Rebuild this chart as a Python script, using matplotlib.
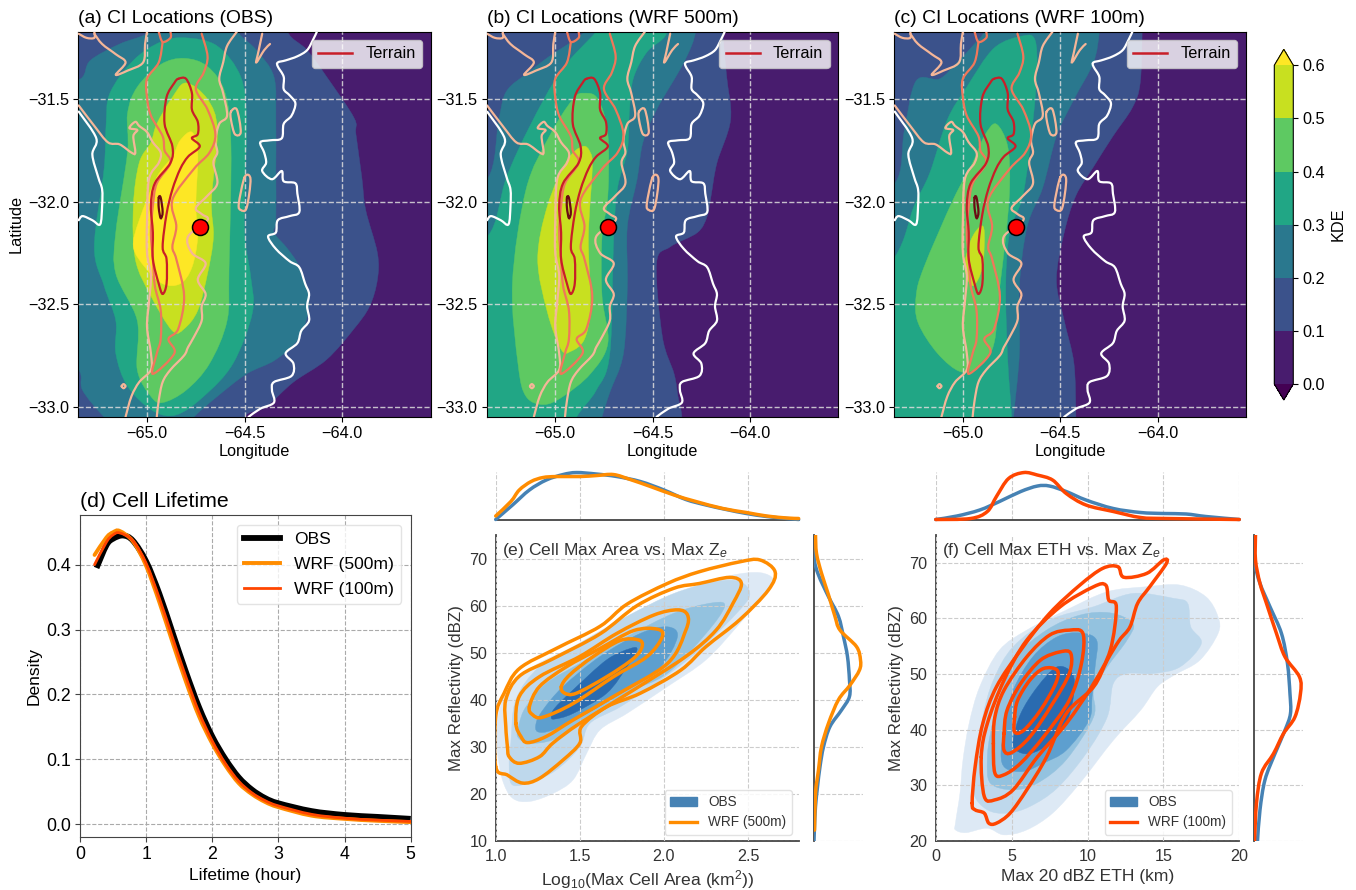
import numpy as np
import matplotlib as mpl
mpl.use('Agg')
import matplotlib.pyplot as plt
from matplotlib.path import Path
from matplotlib.patches import PathPatch, Patch
from matplotlib.lines import Line2D
from matplotlib.colors import ListedColormap, BoundaryNorm
from matplotlib.cm import ScalarMappable

# terrain contours, (lon, lat)
white_east = [(-64.13,-31.17),(-64.15,-31.21),(-64.18,-31.26),(-64.23,-31.29),(-64.29,-31.31),(-64.33,-31.32),
              (-64.33,-31.34),(-64.30,-31.39),(-64.30,-31.45),(-64.27,-31.48),(-64.24,-31.52),(-64.26,-31.58),
              (-64.30,-31.62),(-64.31,-31.69),(-64.37,-31.70),(-64.42,-31.71),(-64.40,-31.76),(-64.39,-31.81),
              (-64.41,-31.85),(-64.36,-31.89),(-64.31,-31.85),(-64.30,-31.90),(-64.24,-31.91),(-64.23,-31.96),
              (-64.22,-32.05),(-64.27,-32.07),(-64.33,-32.09),(-64.34,-32.15),(-64.38,-32.17),(-64.34,-32.23),
              (-64.27,-32.29),(-64.22,-32.32),(-64.19,-32.40),(-64.17,-32.45),(-64.18,-32.51),(-64.17,-32.58),
              (-64.21,-32.63),(-64.23,-32.69),(-64.29,-32.74),(-64.25,-32.79),(-64.26,-32.85),(-64.35,-32.88),
              (-64.36,-32.92),(-64.35,-32.98),(-64.42,-33.01),(-64.48,-33.05)]
white_west = [(-65.35,-31.56),(-65.26,-31.69),(-65.28,-31.77),(-65.25,-31.88),(-65.23,-31.94),(-65.23,-32.02),
              (-65.24,-32.11),(-65.28,-32.09),(-65.33,-32.07),(-65.35,-32.09)]
peach_corner = [(-65.35,-31.18),(-65.31,-31.20),(-65.27,-31.20),(-65.27,-31.17)]
peach_north = [(-65.27,-31.18),(-65.23,-31.23),(-65.16,-31.28),(-65.11,-31.32),(-65.16,-31.38),(-65.10,-31.36),
               (-65.02,-31.32),(-65.01,-31.23),(-65.00,-31.17)]
peach_west = [(-65.35,-31.53),(-65.27,-31.63),(-65.20,-31.71),(-65.14,-31.72),(-65.08,-31.76),(-65.06,-31.76),
              (-65.07,-31.68),(-65.05,-31.65),(-65.09,-31.64),(-65.06,-31.61),(-65.04,-31.63),(-65.00,-31.66),
              (-64.97,-31.71),(-64.93,-31.76),(-64.94,-31.81),(-64.99,-31.89),(-65.00,-32.09),(-65.00,-32.25),
              (-64.98,-32.36),(-64.99,-32.49),(-65.00,-32.61),(-64.98,-32.74),(-64.98,-32.82),(-65.04,-32.88),
              (-65.08,-32.95),(-65.11,-33.05)]
peach_east = [(-64.54,-31.17),(-64.59,-31.24),(-64.61,-31.32),(-64.63,-31.40),(-64.61,-31.47),(-64.59,-31.58),
              (-64.63,-31.62),(-64.65,-31.70),(-64.64,-31.76),(-64.66,-31.81),(-64.64,-31.91),(-64.69,-31.97),
              (-64.75,-32.03),(-64.72,-32.06),(-64.69,-32.09),(-64.79,-32.17),(-64.77,-32.25),(-64.70,-32.30),
              (-64.74,-32.38),(-64.70,-32.45),(-64.72,-32.51),(-64.72,-32.58),(-64.76,-32.66),(-64.79,-32.71),
              (-64.81,-32.75),(-64.88,-32.82),(-64.92,-32.88),(-64.94,-32.97),(-64.95,-33.05)]
peach_isle1 = [(-64.57,-31.56),(-64.54,-31.55),(-64.52,-31.66),(-64.55,-31.67),(-64.57,-31.60)]
peach_isle2 = [(-64.50,-31.88),(-64.47,-31.89),(-64.49,-32.03),(-64.52,-32.04),(-64.53,-32.01)]
peach_isle3 = [(-65.13,-32.90),(-65.12,-32.89),(-65.11,-32.90),(-65.12,-32.91)]
peach_isle4 = [(-64.41,-31.18),(-64.43,-31.27),(-64.44,-31.32),(-64.40,-31.26),(-64.37,-31.23)]
coral_top = [(-64.94,-31.17),(-64.92,-31.22),(-64.88,-31.20),(-64.88,-31.17)]
coral_main = [(-64.92,-31.22),(-64.94,-31.32),(-65.00,-31.40),(-65.00,-31.49),(-64.98,-31.58),(-64.92,-31.68),
              (-64.91,-31.75),(-64.88,-31.81),(-64.95,-31.91),(-64.97,-32.02),(-64.98,-32.15),(-64.97,-32.28),
              (-64.96,-32.41),(-64.93,-32.53),(-64.93,-32.67),(-64.95,-32.74),(-64.97,-32.84),(-64.86,-32.74),
              (-64.89,-32.67),(-64.84,-32.62),(-64.81,-32.46),(-64.85,-32.28),(-64.87,-32.22),(-64.85,-32.12),
              (-64.87,-31.99),(-64.76,-31.84),(-64.68,-31.76),(-64.65,-31.67),(-64.69,-31.55),(-64.75,-31.45),
              (-64.71,-31.37),(-64.69,-31.29),(-64.72,-31.18)]
red_ridge = [(-64.84,-31.40),(-64.80,-31.40),(-64.77,-31.47),(-64.77,-31.55),(-64.74,-31.61),(-64.74,-31.67),
             (-64.77,-31.69),(-64.73,-31.73),(-64.79,-31.78),(-64.83,-31.84),(-64.87,-31.94),(-64.90,-32.06),
             (-64.92,-32.22),(-64.90,-32.28),(-64.90,-32.40),(-64.92,-32.45),(-64.94,-32.40),(-64.97,-32.28),
             (-64.97,-32.15),(-64.98,-32.02),(-64.96,-31.91),(-64.88,-31.81),(-64.87,-31.73),(-64.91,-31.62),
             (-64.90,-31.49),(-64.86,-31.42)]
dark_peak = [(-64.94,-31.98),(-64.93,-31.98),(-64.92,-32.05),(-64.93,-32.08),(-64.94,-32.03)]
ci_lon = [-64.729]
ci_lat = [-32.125]

# KDE iso-lines of the CI maps, (lon, lat), level 0.1 to 0.6
obs_10 = [(-64.30,-31.0),(-64.28,-31.17),(-64.18,-31.26),(-64.08,-31.39),(-63.94,-31.59),(-63.93,-31.67),(-63.90,-31.88),
          (-63.88,-32.04),(-63.82,-32.25),(-63.82,-32.38),(-63.86,-32.51),(-63.94,-32.62),(-64.08,-32.77),(-64.25,-32.88),
          (-64.39,-33.00),(-64.50,-33.05),(-64.50,-33.2),(-65.6,-33.2),(-65.6,-31.0)]
obs_20 = [(-65.5,-31.45),(-65.34,-31.40),(-65.29,-31.31),(-65.14,-31.23),(-65.00,-31.18),(-64.9,-31.1),(-64.6,-31.1),
          (-64.52,-31.19),(-64.44,-31.26),(-64.35,-31.39),(-64.34,-31.60),(-64.34,-31.84),(-64.34,-32.09),(-64.35,-32.15),
          (-64.28,-32.23),(-64.22,-32.32),(-64.17,-32.49),(-64.22,-32.66),(-64.34,-32.77),(-64.49,-32.84),(-64.64,-32.95),
          (-64.76,-33.05),(-64.85,-33.15),(-65.10,-33.15),(-65.22,-33.05),(-65.33,-32.92),(-65.35,-32.82),(-65.5,-32.7)]
obs_30 = [(-64.80,-31.20),(-64.93,-31.22),(-65.07,-31.31),(-65.19,-31.47),(-65.21,-31.63),(-65.22,-31.84),(-65.27,-32.22),
          (-65.22,-32.41),(-65.16,-32.58),(-65.16,-32.74),(-65.10,-32.90),(-64.97,-33.02),(-64.85,-33.04),(-64.71,-32.95),
          (-64.56,-32.79),(-64.46,-32.54),(-64.47,-32.36),(-64.50,-32.17),(-64.50,-31.93),(-64.49,-31.60),(-64.52,-31.39),
          (-64.64,-31.24)]
obs_40 = [(-64.81,-31.30),(-64.93,-31.33),(-65.05,-31.44),(-65.10,-31.57),(-65.10,-31.76),(-65.16,-32.15),(-65.16,-32.35),
          (-65.05,-32.58),(-65.05,-32.82),(-64.98,-32.95),(-64.92,-32.98),(-64.80,-32.92),(-64.68,-32.79),(-64.59,-32.58),
          (-64.58,-32.33),(-64.57,-31.73),(-64.60,-31.47),(-64.69,-31.34)]
obs_50 = [(-64.80,-31.42),(-64.87,-31.49),(-64.95,-31.62),(-64.98,-31.71),(-65.04,-31.81),(-65.07,-32.02),(-65.06,-32.28),
          (-64.98,-32.46),(-64.87,-32.63),(-64.81,-32.62),(-64.74,-32.53),(-64.69,-32.35),(-64.66,-32.17),(-64.67,-31.99),
          (-64.64,-31.65),(-64.69,-31.50)]
obs_60 = [(-64.77,-31.66),(-64.83,-31.70),(-64.87,-31.78),(-64.95,-31.88),(-65.04,-32.09),(-65.07,-32.22),(-65.01,-32.32),
          (-64.92,-32.40),(-64.83,-32.40),(-64.77,-32.32),(-64.74,-32.17),(-64.75,-32.02),(-64.74,-31.76)]

w500_10 = [(-64.14,-31.05),(-64.14,-31.18),(-64.12,-31.39),(-64.10,-31.60),(-64.17,-31.81),(-64.20,-31.97),(-64.22,-32.07),
           (-64.27,-32.15),(-64.41,-32.22),(-64.48,-32.30),(-64.45,-32.66),(-64.39,-32.84),(-64.37,-32.95),(-64.35,-33.05),
           (-64.35,-33.2),(-65.6,-33.2),(-65.6,-31.05)]
w500_20 = [(-64.28,-31.17),(-64.34,-31.32),(-64.48,-31.55),(-64.55,-31.71),(-64.58,-31.89),(-64.63,-32.12),(-64.63,-32.41),
           (-64.65,-32.74),(-64.72,-32.93),(-64.76,-33.05),(-64.8,-33.2),(-65.6,-33.2),(-65.6,-32.0),(-65.35,-31.89),
           (-65.29,-31.60),(-65.25,-31.46),(-65.14,-31.37),(-65.03,-31.29),(-64.85,-31.17),(-64.8,-31.05),(-64.3,-31.05)]
w500_30 = [(-64.43,-31.18),(-64.53,-31.27),(-64.60,-31.40),(-64.62,-31.57),(-64.63,-31.75),(-64.68,-31.93),(-64.70,-32.17),
           (-64.72,-32.74),(-64.79,-32.92),(-64.89,-33.05),(-64.95,-33.2),(-65.6,-33.2),(-65.6,-32.2),(-65.35,-32.17),
           (-65.25,-31.88),(-65.13,-31.63),(-64.97,-31.36),(-64.79,-31.17),(-64.7,-31.05),(-64.45,-31.05)]
w500_40 = [(-64.85,-31.47),(-64.91,-31.50),(-65.03,-31.68),(-65.15,-31.94),(-65.22,-32.40),(-65.19,-32.80),(-65.15,-32.95),
           (-65.06,-32.99),(-64.96,-32.95),(-64.82,-32.84),(-64.73,-32.69),(-64.76,-32.46),(-64.76,-32.17),(-64.73,-31.97),
           (-64.73,-31.67),(-64.78,-31.50)]
w500_50 = [(-64.86,-31.73),(-64.94,-31.80),(-65.04,-32.02),(-65.09,-32.28),(-65.04,-32.54),(-64.97,-32.72),(-64.92,-32.73),
           (-64.85,-32.67),(-64.82,-32.51),(-64.83,-32.17),(-64.81,-31.84),(-64.82,-31.76)]

w100_10 = [(-64.08,-31.05),(-64.08,-31.17),(-64.09,-31.42),(-64.13,-31.54),(-64.23,-31.68),(-64.33,-31.83),(-64.42,-31.97),
           (-64.48,-32.15),(-64.52,-32.38),(-64.48,-32.58),(-64.43,-32.79),(-64.42,-33.05),(-64.42,-33.2),(-65.6,-33.2),
           (-65.6,-31.05)]
w100_20 = [(-64.30,-31.17),(-64.33,-31.32),(-64.43,-31.50),(-64.52,-31.68),(-64.59,-31.93),(-64.67,-32.12),(-64.71,-32.41),
           (-64.71,-32.74),(-64.74,-33.05),(-64.75,-33.2),(-65.6,-33.2),(-65.6,-32.0),(-65.35,-31.91),(-65.30,-31.65),
           (-65.24,-31.41),(-65.12,-31.40),(-65.03,-31.32),(-64.95,-31.24),(-64.89,-31.17),(-64.85,-31.05),(-64.3,-31.05)]
w100_30 = [(-64.63,-31.21),(-64.69,-31.19),(-64.84,-31.25),(-64.98,-31.44),(-65.08,-31.60),(-65.17,-31.86),(-65.25,-32.02),
           (-65.35,-32.27),(-65.6,-32.5),(-65.6,-33.2),(-64.75,-33.2),(-64.75,-33.05),(-64.77,-32.77),(-64.78,-32.41),
           (-64.76,-32.15),(-64.69,-31.96),(-64.64,-31.60),(-64.62,-31.36)]
w100_40 = [(-64.83,-31.62),(-64.89,-31.68),(-64.95,-31.81),(-65.05,-31.99),(-65.20,-32.32),(-65.24,-32.46),(-65.23,-32.59),
           (-65.13,-32.74),(-65.01,-32.83),(-64.91,-32.80),(-64.84,-32.69),(-64.81,-32.41),(-64.78,-32.17),(-64.76,-31.93),
           (-64.77,-31.73)]
w100_50 = [(-64.91,-32.12),(-64.96,-32.19),(-64.99,-32.32),(-64.95,-32.41),(-64.90,-32.32),(-64.89,-32.15)]

# cell lifetime densities
life_hour = [0.25,0.4,0.5,0.65,0.8,1.0,1.2,1.4,1.6,1.8,2.0,2.2,2.4,2.6,2.8,3.0,3.5,4.0,4.5,5.0]
life_obs = [.395,.430,.440,.445,.437,.405,.355,.295,.235,.180,.135,.100,.072,.053,.040,.032,.020,.014,.011,.008]
life_h500 = [0.22,0.4,0.5,0.6,0.8,1.0,1.2,1.4,1.6,1.8,2.0,2.2,2.4,2.6,2.8,3.0,3.5,4.0,4.5,5.0]
life_w500 = [.415,.442,.450,.452,.436,.398,.342,.280,.220,.166,.124,.090,.063,.046,.034,.026,.013,.008,.005,.003]
life_w100 = [.400,.435,.446,.449,.437,.402,.348,.287,.227,.172,.128,.093,.066,.048,.036,.028,.015,.009,.006,.004]

# (e) area vs reflectivity, OBS filled levels and WRF 500 m lines
area_obs1 = [(1.01,29.3),(1.04,23.0),(1.10,19.1),(1.20,18.4),(1.34,20.1),(1.46,23.0),(1.54,28.6),(1.62,33.6),(1.78,37.1),
             (2.02,42.8),(2.25,48.5),(2.45,56.2),(2.60,62.6),(2.65,65.5),(2.57,67.0),(2.41,66.5),(2.21,64.4),(1.94,60.5),
             (1.70,56.2),(1.46,51.3),(1.22,47.0),(1.07,42.1),(1.01,35.7)]
area_obs2 = [(1.09,30.8),(1.08,25.8),(1.10,21.9),(1.22,22.6),(1.36,25.1),(1.50,30.0),(1.56,35.0),(1.74,38.5),(1.98,44.2),
             (2.21,50.6),(2.45,59.1),(2.51,62.6),(2.45,65.1),(2.31,65.1),(2.06,62.6),(1.78,57.7),(1.50,52.0),(1.26,47.0),
             (1.12,40.0)]
area_obs3 = [(1.14,35.0),(1.13,32.2),(1.20,30.8),(1.34,31.5),(1.50,35.0),(1.78,41.4),(2.02,45.6),(2.25,54.1),(2.36,59.8),
             (2.29,60.6),(2.06,58.4),(1.78,53.4),(1.50,47.7),(1.30,43.5),(1.18,38.5)]
area_obs4 = [(1.24,35.0),(1.25,33.2),(1.34,33.6),(1.54,37.1),(1.78,42.1),(1.98,47.0),(2.08,53.4),(2.02,55.5),(1.86,54.1),
             (1.62,49.2),(1.40,42.8),(1.28,37.8)]
area_obs5 = [(1.33,36.4),(1.35,35.9),(1.46,37.1),(1.66,41.4),(1.78,47.0),(1.84,50.6),(1.80,50.9),(1.66,48.5),(1.46,42.1),
             (1.35,38.2)]
area_wrf1 = [(1.00,25.8),(1.07,24.0),(1.16,22.3),(1.26,23.3),(1.40,27.2),(1.50,30.8),(1.51,34.3),(1.66,38.5),(1.86,41.4),
             (2.10,46.3),(2.25,51.3),(2.45,57.0),(2.62,63.3),(2.66,67.2),(2.57,69.7),(2.45,69.3),(2.21,67.2),(2.02,64.7),
             (1.78,60.3),(1.62,55.6),(1.36,50.9),(1.14,46.6),(1.05,41.4),(1.00,36.4)]
area_wrf2 = [(1.07,30.0),(1.08,27.9),(1.14,26.5),(1.26,27.9),(1.34,30.8),(1.50,35.0),(1.82,42.1),(2.13,49.2),(2.31,54.8),
             (2.41,60.5),(2.46,64.7),(2.39,66.0),(2.21,64.7),(2.06,63.7),(1.84,60.0),(1.62,54.0),(1.34,48.7),(1.14,45.0),
             (1.06,40.0),(1.06,34.3)]
area_wrf3 = [(1.12,35.0),(1.15,32.2),(1.19,30.9),(1.30,32.2),(1.46,35.7),(1.70,40.7),(2.02,47.7),(2.13,54.8),(2.14,58.0),
             (2.08,59.1),(1.94,58.0),(1.72,54.1),(1.50,49.2),(1.26,44.9),(1.14,40.7)]
area_wrf4 = [(1.20,38.5),(1.22,36.8),(1.28,36.3),(1.46,39.2),(1.70,44.9),(1.90,49.2),(1.99,53.4),(1.96,55.0),(1.82,54.7),
             (1.62,50.9),(1.42,47.0),(1.26,42.8)]
area_wrf5 = [(1.39,42.8),(1.41,41.4),(1.48,41.4),(1.66,44.9),(1.82,48.8),(1.87,51.3),(1.85,52.7),(1.74,52.6),(1.58,49.2),
             (1.44,45.3)]
# marginals of (e)
area_x_obs = [1.00,1.10,1.20,1.30,1.40,1.48,1.60,1.72,1.86,2.00,2.13,2.25,2.37,2.49,2.61,2.73,2.80]
area_d_obs = [.01,.30,.60,.80,.91,.95,.92,.87,.77,.60,.41,.30,.21,.13,.07,.03,.01]
area_x_wrf = [1.00,1.09,1.14,1.21,1.28,1.36,1.50,1.60,1.70,1.80,1.92,2.06,2.19,2.35,2.49,2.61,2.73,2.80]
area_d_wrf = [.08,.37,.60,.77,.85,.87,.87,.89,.91,.81,.67,.50,.37,.23,.15,.08,.04,.03]
refl_e_obs = [10,13.0,17.3,21.5,25.8,30.0,34.3,37.8,40.7,44.2,49.2,53.4,57.7,61.9,66.5,69.7,74.7]
dens_e_obs = [0,.01,.03,.07,.12,.19,.32,.55,.71,.71,.67,.59,.49,.29,.09,.01,.01]
refl_e_wrf = [12.3,20.1,25.1,30.0,35.0,40.0,43.1,46.3,48.5,51.3,54.8,57.7,62.3,66.9,71.1,75.0]
dens_e_wrf = [.01,.03,.09,.15,.29,.49,.72,.91,.93,.85,.52,.42,.29,.15,.05,.03]

# (f) echo top vs reflectivity, OBS filled levels and WRF 100 m lines
eth_obs1 = [(1.3,23.2),(1.3,22.0),(2.0,21.5),(3.4,22.3),(4.5,21.1),(6.0,22.0),(7.7,25.0),(9.5,30.4),(11.7,38.1),(13.5,43.5),
            (14.6,47.7),(15.7,49.8),(17.4,52.5),(18.6,57.3),(18.6,60.3),(17.8,63.9),(16.1,66.0),(13.9,65.7),(11.3,64.8),
            (8.6,61.5),(6.0,57.9),(4.2,54.3),(2.9,47.7),(2.2,41.1),(1.8,34.6),(1.6,28.6)]
eth_obs2 = [(2.7,34.0),(2.5,28.6),(3.4,25.6),(4.7,25.0),(6.2,26.2),(8.0,29.5),(9.9,35.7),(11.3,42.3),(11.7,48.3),(12.6,50.1),
            (14.3,50.1),(16.1,51.3),(17.5,55.5),(16.8,58.5),(16.6,62.7),(15.7,63.6),(13.0,64.5),(10.4,62.1),(7.5,59.7),
            (5.1,54.9),(3.8,48.9),(3.1,42.3)]
eth_obs3 = [(3.4,34.6),(3.6,30.4),(5.1,29.2),(6.7,30.4),(8.6,34.6),(10.4,42.3),(10.4,47.1),(11.3,51.3),(12.6,56.1),(13.0,59.1),
            (11.5,61.0),(9.5,60.6),(7.3,57.9),(5.3,53.1),(4.2,45.9),(3.6,39.3)]
eth_obs4 = [(4.3,35.7),(4.6,33.1),(5.8,32.5),(7.1,34.0),(8.6,36.3),(10.1,41.7),(10.3,45.9),(10.5,51.3),(10.6,56.1),(9.5,57.4),
            (8.0,56.7),(6.4,53.1),(5.1,47.1),(4.6,41.1)]
eth_obs5 = [(5.1,38.1),(5.3,36.3),(6.2,35.7),(7.5,37.5),(8.6,41.1),(9.1,46.5),(9.0,50.1),(8.0,51.3),(6.7,47.7),(5.6,42.9)]
eth_wrf1 = [(2.4,26.8),(2.6,25.6),(3.2,25.0),(3.5,23.2),(4.0,23.2),(4.9,25.0),(6.0,29.2),(7.3,35.1),(8.6,42.9),(10.4,47.7),
            (11.3,52.5),(12.1,56.1),(12.8,58.5),(13.3,62.7),(14.1,65.7),(15.2,69.9),(15.0,70.5),(13.9,68.1),(12.4,67.4),
            (12.0,69.3),(11.0,69.0),(9.5,66.0),(7.5,60.9),(5.6,54.3),(4.0,47.7),(3.1,41.1),(2.6,33.4)]
eth_wrf2 = [(3.0,35.1),(3.2,28.0),(3.9,27.4),(5.1,29.2),(6.7,35.1),(8.6,41.1),(10.4,48.3),(11.5,54.3),(11.9,62.1),(11.4,63.3),
            (11.2,66.0),(10.4,65.7),(8.2,62.1),(6.0,56.1),(4.5,48.9),(3.4,41.1)]
eth_wrf3 = [(3.8,37.5),(3.9,32.2),(4.5,31.9),(5.6,34.0),(7.1,38.7),(8.8,45.3),(9.6,51.9),(9.7,57.3),(8.8,57.9),(7.5,57.0),
            (6.0,53.1),(4.5,47.1),(3.9,42.3)]
eth_wrf4 = [(4.5,39.3),(4.5,36.3),(5.0,35.9),(6.2,38.7),(7.7,44.7),(8.8,50.1),(8.9,53.7),(8.2,54.0),(6.9,52.5),(5.6,48.3),
            (4.7,43.5)]
eth_wrf5 = [(5.2,42.3),(5.2,39.6),(5.8,39.9),(6.9,43.5),(7.9,48.3),(8.0,50.7),(7.1,51.0),(6.2,48.9),(5.4,45.3)]
# marginals of (f)
eth_x_obs = [0,1.4,2.9,4.2,5.6,6.7,7.5,8.6,9.9,11.7,13.5,15.0,16.5,17.8,20]
eth_d_obs = [.01,.08,.20,.37,.57,.68,.68,.57,.40,.23,.15,.13,.12,.07,.01]
eth_x_wrf = [0,2.3,3.4,4.0,4.8,5.8,6.7,7.7,8.6,9.9,11.7,13.5,15.2,20]
eth_d_wrf = [.01,.03,.17,.47,.83,.95,.90,.80,.53,.30,.17,.05,.03,.01]
refl_f_obs = [20,25.6,31,35.7,39.9,42.9,46.5,51.9,57.3,62.1,66.3,69.9,74.7]
dens_f_obs = [.07,.12,.22,.42,.62,.73,.72,.67,.55,.32,.12,.02,.01]
refl_f_wrf = [20,26.8,32.2,35.7,39.3,42.3,46.5,49.5,53.1,57.3,62.7,66.3,70.5,75]
dens_f_wrf = [.01,.05,.15,.39,.59,.82,.93,.91,.62,.45,.25,.12,.03,.03]

kde_levels = [0.0,0.1,0.2,0.3,0.4,0.5,0.6]

plt.rcParams['font.family'] = ['Liberation Sans', 'DejaVu Sans']
plt.rcParams['mathtext.fontset'] = 'custom'
plt.rcParams['mathtext.rm'] = 'Liberation Sans'
plt.rcParams['mathtext.it'] = 'Liberation Sans:italic'
ftsize = 11.7
W, H = 1356.0, 890.0

# viridis bands as in the colorbar
kde_colors = ['#481c6e','#3b528b','#2a788e','#21a685','#5ec962','#c8e020']
kde_under, kde_over = '#440154', '#fde725'
band_colors = kde_colors[1:] + [kde_over]
obs_blues = ['#dde9f5','#bed8ec','#93c2df','#5d9fcf','#2a6bb0']
orange, redorange = '#ff8c00', '#ff4500'
terrain_colors = ['#ffffff','#f5b698','#f0775a','#c81e28','#6b0a14']
grey = '#333333'

fig = plt.figure(figsize=(W/100.0, H/100.0), dpi=100)


def px_axes(left, right, top, bottom):
    # axes from pixel edges of the figure
    return fig.add_axes([left/W, 1.0-bottom/H, (right-left)/W, (bottom-top)/H])


def smooth_path(points, closed=True):
    # cubic spline passing through the read points
    pts = np.array(points, dtype=float)
    n = len(pts)
    verts = [pts[0]]
    codes = [Path.MOVETO]
    for i in range(n if closed else n-1):
        if closed:
            p0, p1, p2, p3 = pts[i-1], pts[i], pts[(i+1) % n], pts[(i+2) % n]
        else:
            p0, p1, p2, p3 = pts[max(i-1,0)], pts[i], pts[i+1], pts[min(i+2,n-1)]
        verts += [p1 + (p2-p0)/6.0, p2 - (p3-p1)/6.0, p2]
        codes += [Path.CURVE4, Path.CURVE4, Path.CURVE4]
    return Path(verts, codes)


def fill_level(ax, points, color):
    ax.add_patch(PathPatch(smooth_path(points), facecolor=color, edgecolor=color, lw=0.3, zorder=1))


def line_level(ax, points, color, lw=2.5, closed=True, z=4, cap='round', clip=True):
    ax.add_patch(PathPatch(smooth_path(points, closed), facecolor='none', edgecolor=color, lw=lw, zorder=z,
                           capstyle=cap, clip_on=clip))


## CI maps
terrain = [([white_east,white_west],0,False),
           ([peach_corner,peach_north,peach_west,peach_east,peach_isle4],1,False),
           ([peach_isle1,peach_isle2,peach_isle3],1,True),
           ([coral_top,coral_main],2,False),
           ([red_ridge,dark_peak],3,True)]
maps = [((78.3,430.7),'(a) CI Locations (OBS)',[obs_10,obs_20,obs_30,obs_40,obs_50,obs_60]),
        ((486.7,838.3),'(b) CI Locations (WRF 500m)',[w500_10,w500_20,w500_30,w500_40,w500_50]),
        ((894.3,1246.0),'(c) CI Locations (WRF 100m)',[w100_10,w100_20,w100_30,w100_40,w100_50])]
for (x0,x1),title,bands in maps:
    ax = px_axes(x0,x1,31.7,416.7)
    ax.set_facecolor(kde_colors[0])
    for pts,col in zip(bands,band_colors):
        fill_level(ax,pts,col)
    for lines,k,closed in terrain:
        for pts in lines:
            col = terrain_colors[4] if pts is dark_peak else terrain_colors[k]
            line_level(ax,pts,col,lw=1.6,closed=closed,z=3)
    ax.plot(ci_lon,ci_lat,'o',color='red',mec='k',mew=1.1,ms=11.5,zorder=5)
    ax.set_xlim(-65.352,-63.547)
    ax.set_ylim(-33.049,-31.17)
    ax.set_xticks([-65.0,-64.5,-64.0])
    ax.set_yticks([-33.0,-32.5,-32.0,-31.5])
    ax.set_xticklabels(['\u221265.0','\u221264.5','\u221264.0'],fontsize=ftsize)
    ax.set_yticklabels(['\u221233.0','\u221232.5','\u221232.0','\u221231.5'],fontsize=ftsize)
    ax.grid(True,color='#dddddd',ls='--',lw=1.0,alpha=0.85,zorder=2)
    ax.set_axisbelow(False)
    ax.tick_params(length=3.5,width=0.8,pad=3)
    ax.set_xlabel('Longitude',fontsize=ftsize,labelpad=2)
    ax.set_title(title,loc='left',fontsize=13.9,pad=6)
    leg = ax.legend(handles=[Line2D([],[],color=terrain_colors[3],lw=1.8,label='Terrain')],loc='upper right',
                    fontsize=ftsize,framealpha=0.8,facecolor='white',edgecolor='#cccccc',
                    bbox_to_anchor=(0.975,0.979),borderaxespad=0,handlelength=2.1)
    leg.set_zorder(6)
    if title.startswith('(a)'):
        ax.set_ylabel('Latitude',fontsize=ftsize,labelpad=3)

## colorbar
cax = px_axes(1274.3,1293.3,49.3,400.0)
sm = ScalarMappable(norm=BoundaryNorm(kde_levels,6),
                    cmap=ListedColormap(kde_colors).with_extremes(under=kde_under,over=kde_over))
cbar = fig.colorbar(sm,cax=cax,extend='both',extendfrac=0.05,ticks=kde_levels,spacing='proportional')
cbar.ax.tick_params(labelsize=ftsize,length=3.5,width=0.8,pad=3)
cbar.set_label('KDE',fontsize=ftsize,labelpad=4)

## (d) lifetime
ax = px_axes(80.0,410.7,515.0,836.7)
line_level(ax,list(zip(life_hour,life_obs)),'k',lw=4.2,closed=False,z=3,cap='butt')
line_level(ax,list(zip(life_h500,life_w500)),orange,lw=2.8,closed=False,z=3.1)
line_level(ax,list(zip(life_h500,life_w100)),redorange,lw=2.0,closed=False,z=3.2)
ax.set_xlim(0,5)
ax.set_ylim(-0.0195,0.4766)
ax.set_xticks([0,1,2,3,4,5])
ax.set_yticks([0.0,0.1,0.2,0.3,0.4])
ax.tick_params(labelsize=12.8,length=3.5,width=0.8,pad=3,color='#444444')
for s in ax.spines.values():
    s.set_color('#444444')
ax.grid(True,color='#aaaaaa',ls='--',lw=0.8)
ax.set_xlabel('Lifetime (hour)',fontsize=12.5,labelpad=4)
ax.set_ylabel('Density',fontsize=12.5,labelpad=3)
ax.set_title('(d) Cell Lifetime',loc='left',fontsize=15.3,pad=6)
ax.legend(handles=[Line2D([],[],color='k',lw=4.2,label='OBS'),
                   Line2D([],[],color=orange,lw=2.8,label='WRF (500m)'),
                   Line2D([],[],color=redorange,lw=2.0,label='WRF (100m)')],
          loc='upper right',fontsize=12.6,framealpha=0.8,edgecolor='#dddddd',
          bbox_to_anchor=(0.972,0.97),borderaxespad=0,handlelength=2.1,labelspacing=0.55)

## (e), (f) joint plots
joint = [dict(x=(495.7,799.3),xr=(814.0,863.3),xlim=(1.0,2.804),ylim=(10,75),
              xticks=[1.0,1.5,2.0,2.5],xticklabels=['1.0','1.5','2.0','2.5'],
              yticks=[10,20,30,40,50,60,70],fills=[area_obs1,area_obs2,area_obs3,area_obs4,area_obs5],
              lines=[area_wrf1,area_wrf2,area_wrf3,area_wrf4,area_wrf5],color=orange,wrf='WRF (500m)',
              title=r'(e) Cell Max Area vs. Max Z$_e$',xlabel=r'Log$_{10}$(Max Cell Area (km$^2$))',
              top=(area_x_obs,area_d_obs,area_x_wrf,area_d_wrf),
              side=(refl_e_obs,dens_e_obs,refl_e_wrf,dens_e_wrf)),
         dict(x=(935.7,1239.3),xr=(1254.0,1303.3),xlim=(0,20),ylim=(20,75),
              xticks=[0,5,10,15,20],xticklabels=['0','5','10','15','20'],
              yticks=[20,30,40,50,60,70],fills=[eth_obs1,eth_obs2,eth_obs3,eth_obs4,eth_obs5],
              lines=[eth_wrf1,eth_wrf2,eth_wrf3,eth_wrf4,eth_wrf5],color=redorange,wrf='WRF (100m)',
              title=r'(f) Cell Max ETH vs. Max Z$_e$',xlabel='Max 20 dBZ ETH (km)',
              top=(eth_x_obs,eth_d_obs,eth_x_wrf,eth_d_wrf),
              side=(refl_f_obs,dens_f_obs,refl_f_wrf,dens_f_wrf))]
obs_line = '#4682b4'
for j in joint:
    ax = px_axes(j['x'][0],j['x'][1],535.0,841.0)
    for pts,col in zip(j['fills'],obs_blues):
        fill_level(ax,pts,col)
    for pts in j['lines']:
        line_level(ax,pts,j['color'])
    ax.set_xlim(j['xlim'])
    ax.set_ylim(j['ylim'])
    ax.set_xticks(j['xticks'])
    ax.set_xticklabels(j['xticklabels'])
    ax.set_yticks(j['yticks'])
    ax.grid(True,color='#cccccc',ls='--',lw=0.8)
    ax.set_axisbelow(False)
    ax.tick_params(labelsize=11.6,labelcolor=grey,length=0,pad=6)
    for s in ['top','right']:
        ax.spines[s].set_visible(False)
    for s in ['left','bottom']:
        ax.spines[s].set_color('#444444')
        ax.spines[s].set_linewidth(1.3)
    ax.set_xlabel(j['xlabel'],fontsize=12.6,color=grey,labelpad=3)
    ax.set_ylabel('Max Reflectivity (dBZ)',fontsize=12.2,color=grey,labelpad=4)
    ax.text(0.022,0.98,j['title'],transform=ax.transAxes,va='top',ha='left',fontsize=12.6,color=grey,zorder=6)
    ax.legend(handles=[Patch(color=obs_line,label='OBS'),Line2D([],[],color=j['color'],lw=2.4,label=j['wrf'])],
              loc='lower right',fontsize=9.8,framealpha=0.85,edgecolor='#dddddd',labelcolor=grey,
              bbox_to_anchor=(0.975,0.02),borderaxespad=0,handlelength=2.0,labelspacing=0.45)

    # marginal above
    axt = px_axes(j['x'][0],j['x'][1],471.7,520.0)
    x_o,d_o,x_w,d_w = j['top']
    line_level(axt,list(zip(x_o,d_o)),obs_line,closed=False,clip=False)
    line_level(axt,list(zip(x_w,d_w)),j['color'],closed=False,clip=False)
    axt.set_xlim(j['xlim'])
    axt.set_ylim(0,0.967)
    axt.set_xticks(j['xticks'])
    axt.set_yticks([])
    axt.tick_params(length=0,labelbottom=False)
    axt.grid(True,axis='x',color='#cccccc',ls='--',lw=0.8)
    for s in ['top','right','left']:
        axt.spines[s].set_visible(False)
    axt.spines['bottom'].set_color('#444444')
    axt.spines['bottom'].set_linewidth(1.3)

    # marginal on the right
    axr = px_axes(j['xr'][0],j['xr'][1],535.0,841.0)
    y_o,r_o,y_w,r_w = j['side']
    line_level(axr,list(zip(r_o,y_o)),obs_line,closed=False)
    line_level(axr,list(zip(r_w,y_w)),j['color'],closed=False)
    axr.set_xlim(0,0.987)
    axr.set_ylim(j['ylim'])
    axr.set_yticks(j['yticks'])
    axr.set_xticks([])
    axr.tick_params(length=0,labelleft=False)
    axr.grid(True,axis='y',color='#cccccc',ls='--',lw=0.8)
    for s in ['top','right','bottom']:
        axr.spines[s].set_visible(False)
    axr.spines['left'].set_color('#444444')
    axr.spines['left'].set_linewidth(1.3)

plt.savefig('out.png',dpi=100)
